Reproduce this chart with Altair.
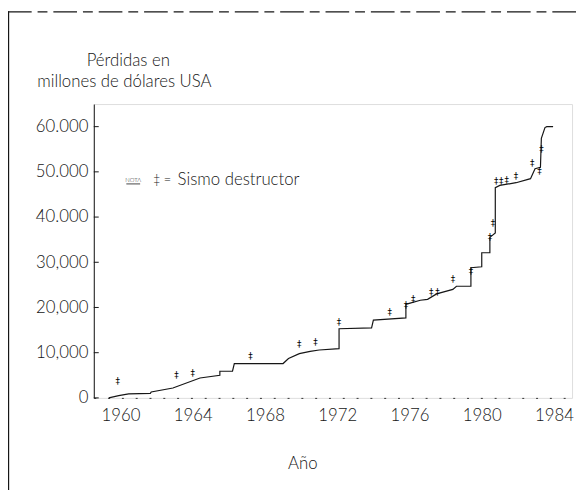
import altair as alt
import pandas as pd

# Cumulative losses (step-like line)
years = [1959.35, 1959.9, 1960.45, 1961.65, 1961.7, 1962.9, 1964.4, 1965.5, 1965.5, 1966.2,
         1966.3, 1967.3, 1969.0, 1969.3, 1969.9, 1970.5, 1971.0, 1972.1, 1972.1, 1973.9,
         1974.0, 1975.8, 1975.8, 1976.6, 1977.0, 1977.5, 1978.4, 1978.6, 1979.4, 1979.4,
         1980.0, 1980.0, 1980.45, 1980.45, 1980.75, 1980.75, 1981.0, 1981.9, 1982.7, 1982.95,
         1983.25, 1983.3, 1983.5, 1983.6, 1983.95]
values = [0, 500, 900, 1000, 1300, 2200, 4400, 5000, 5900, 5900,
          7600, 7600, 7600, 8700, 9800, 10300, 10600, 10900, 15300, 15500,
          17200, 17700, 20700, 21600, 21800, 23000, 24000, 24700, 24700, 28800,
          29000, 32100, 32100, 35500, 36500, 46500, 47000, 47600, 48500, 50700,
          51000, 57400, 59800, 60000, 60000]

# Destructive earthquake markers
quake_years = [1959.85, 1963.1, 1964.0, 1967.2, 1969.9, 1970.8, 1972.1, 1974.9, 1975.8, 1976.2,
               1977.2, 1977.55, 1978.4, 1979.4, 1980.45, 1980.62, 1980.8, 1981.08, 1981.38, 1981.9,
               1982.8, 1983.2, 1983.3]
quake_values = [3700, 5000, 5400, 9200, 12000, 12400, 16800, 19000, 20500, 21800,
                23500, 23500, 26200, 28000, 35500, 38600, 48000, 48000, 48200, 49100,
                52000, 50200, 55000]

y_ticks = [0, 10000, 20000, 30000, 40000, 50000, 60000]
x_ticks = [1960, 1964, 1968, 1972, 1976, 1980, 1984]
title_lines = ["Pérdidas en", "millones de dólares USA"]
note_label = ["NOTA"]
note_symbol = ["‡ ="]
note_text = ["Sismo destructor"]
x_title = ["Año"]
marker_glyph = "‡"

FONT = "Lato"
INK = "#161616"
W = 300

line_df = pd.DataFrame({"year": years, "loss": values, "i": list(range(len(years)))})
quake_df = pd.DataFrame({"year": quake_years, "loss": quake_values})
tick_df = pd.DataFrame({"loss": y_ticks})
one = pd.DataFrame({"a": [0]})

xscale = alt.Scale(domain=[1958.52, 1985.0], nice=False, zero=False)
yscale = alt.Scale(domain=[0, 65000], nice=False)

x_enc = alt.X("year:Q", scale=xscale,
              axis=alt.Axis(values=x_ticks, format="d", title=None, ticks=False, grid=False,
                            labelPadding=10, labelFontSize=17, labelFont=FONT, labelColor=INK,
                            labelFontWeight=W,
                            domainDash=[2, 12], domainColor="#333", labelFlush=False))
y_enc = alt.Y("loss:Q", scale=yscale,
              axis=alt.Axis(values=y_ticks, title=None, ticks=False, grid=False,
                            labelPadding=6, labelFontSize=17, labelFont=FONT, labelColor=INK,
                            labelFontWeight=W, domainColor=INK,
                            labelExpr="datum.value >= 40000 ? replace(format(datum.value, ','), ',', '.') : format(datum.value, ',')"))

line = alt.Chart(line_df).mark_line(color=INK, strokeWidth=1.2).encode(
    x=x_enc, y=y_enc, order="i:Q")

quakes = alt.Chart(quake_df).mark_text(text=marker_glyph, fontSize=9, font="DejaVu Sans",
                                       color="#000000", baseline="middle").encode(
    x=alt.X("year:Q", scale=xscale), y=alt.Y("loss:Q", scale=yscale))

inner_ticks = alt.Chart(tick_df).mark_rule(color=INK, strokeWidth=1).encode(
    y=alt.Y("loss:Q", scale=yscale), x=alt.value(0), x2=alt.value(5))

def label(txt, x, y, size, align="center", baseline="alphabetic"):
    return alt.Chart(pd.DataFrame({"t": txt})).mark_text(
        font=FONT, fontSize=size, fontWeight=W, color=INK, align=align, baseline=baseline).encode(
        x=alt.value(x), y=alt.value(y), text="t:N")

t1 = label([title_lines[0]], 35, -39, 17)
t2 = label([title_lines[1]], 31, -17, 17)
n1 = label(note_label, 40, 77, 6, baseline="middle")
n1u = alt.Chart(one).mark_rule(color=INK, strokeWidth=0.8).encode(
    x=alt.value(33), x2=alt.value(47), y=alt.value(81))
n2 = label(note_symbol, 60, 77, 13, align="left", baseline="middle")
n3 = label(note_text, 85, 77, 17, align="left", baseline="middle")
xt = label(x_title, 212, 370, 17)

frame_left = alt.Chart(one).mark_rule(color=INK, strokeWidth=1.4).encode(
    x=alt.value(-86.5), y=alt.value(-94), y2=alt.value(400))
frame_top = alt.Chart(one).mark_rule(color=INK, strokeWidth=1.2, strokeDash=[24, 6, 10, 6]).encode(
    x=alt.value(-87), x2=alt.value(490), y=alt.value(-93.5))

chart = alt.layer(line, quakes, inner_ticks, t1, t2, n1, n1u, n2, n3, xt, frame_left, frame_top).properties(
    width=485, height=298,
    padding={"left": 87, "top": 94, "right": 4, "bottom": 90},
    autosize="none",
).configure_view(stroke=None).configure(background="white")

chart.save("out.html", embed_options={"renderer": "svg", "actions": False})
